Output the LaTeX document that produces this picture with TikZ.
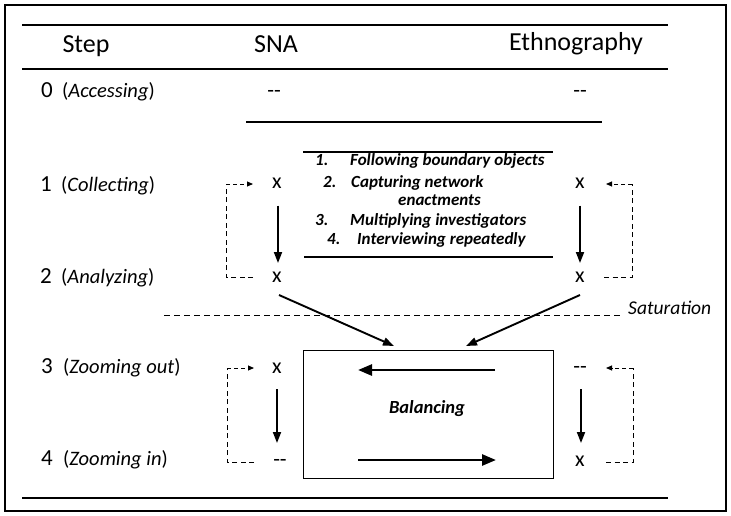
\documentclass[tikz,border=0pt]{standalone}
\usepackage{fontspec}
\setmainfont{Carlito}
\usetikzlibrary{arrows.meta}
\begin{document}
\begin{tikzpicture}[x=1pt,y=-1pt,
  rule/.style={line width=2.2pt},
  hdr/.style={font=\fontsize{26}{28}\selectfont, inner sep=0, anchor=base},
  num/.style={font=\fontsize{23}{26}\selectfont, inner sep=0, anchor=base},
  lbl/.style={font=\fontsize{20.5}{23}\selectfont, anchor=base west, inner sep=0},
  mk/.style={font=\fontsize{22}{24}\selectfont, inner sep=0, anchor=base},
  item/.style={font=\fontsize{17}{20}\selectfont\bfseries\itshape, anchor=mid west, inner sep=0},
  sarrow/.style={line width=1.9pt, -{Triangle[length=11pt,width=8pt]}},
  barrow/.style={line width=2.6pt, -{Triangle[length=14pt,width=11pt]}},
  darrow/.style={line width=0.9pt, dash pattern=on 4pt off 3pt, -{Triangle[length=6pt,width=5pt]}},
  dline/.style={line width=0.9pt, dash pattern=on 5pt off 3.5pt},
]
\useasboundingbox (0,0) rectangle (731,516);
\draw[line width=1.6pt] (5,5) rectangle (726,511);
% rules
\draw[rule] (22,25) -- (668,25);
\draw[rule] (22,69) -- (668,69);
\draw[rule] (246,122) -- (602,122);
\draw[rule] (22,498) -- (668,498);
% header
\node[hdr] (hstep) at (86,53) {Step};
\node[hdr] (hsna) at (276,53) {SNA};
\node[hdr] (heth) at (576,51) {Ethnography};
% row labels
\node[num] (n0) at (47,98) {0};
\node[lbl] (l0) at (62,98) {(\textit{Accessing})};
\node[num] (n1) at (46,191) {1};
\node[lbl] (l1) at (61,191) {(\textit{Collecting})};
\node[num] (n2) at (46,283) {2};
\node[lbl] (l2) at (61,283) {(\textit{Analyzing})};
\node[num] (n3) at (47,373) {3};
\node[lbl] (l3) at (63,373) {(\textit{Zooming out})};
\node[num] (n4) at (47,465) {4};
\node[lbl] (l4) at (63,465) {(\textit{Zooming in})};
% row 0 marks
\node[mk] (s0) at (274,98) {-{}-};
\node[mk] (e0) at (580,98) {-{}-};
% list block
\draw[line width=1.8pt] (303,152) -- (553,152);
\draw[line width=1.8pt] (304,257) -- (553,257);
\node[item] (i1n) at (315,163) {1.};
\node[item] (i1) at (350,163) {Following boundary objects};
\node[item] (i2n) at (323,185) {2.};
\node[item] (i2) at (351,185) {Capturing network};
\node[item] (i2b) at (398,203) {enactments};
\node[item] (i3n) at (315,223) {3.};
\node[item] (i3) at (350,223) {Multiplying investigators};
\node[item] (i4n) at (327,242) {4.};
\node[item] (i4) at (357,242) {Interviewing repeatedly};
% marks rows 1-2
\node[mk] (xl1) at (277,189) {x};
\node[mk] (xl2) at (277,282) {x};
\node[mk] (xr1) at (580,189) {x};
\node[mk] (xr2) at (580,282) {x};
\draw[sarrow] (xl1) ++(1,22) coordinate (vl1) -- (278,263) coordinate (vl2);
\draw[sarrow] (xr1) ++(0,22) coordinate (vr1) -- (580,263) coordinate (vr2);
% dashed loops rows 1-2
\coordinate (la1) at (253,277);
\coordinate (la2) at (226,277);
\coordinate (la3) at (226,184);
\coordinate (la4) at (253,184);
\draw[dline] (la1) -- (la2) -- (la3);
\draw[darrow] (la3) -- (la4);
\coordinate (ra1) at (604,277);
\coordinate (ra2) at (632,277);
\coordinate (ra3) at (632,184);
\coordinate (ra4) at (606,184);
\draw[dline] (ra1) -- (ra2) -- (ra3);
\draw[darrow] (ra3) -- (ra4);
% saturation
\draw[line width=0.8pt, dash pattern=on 6pt off 4pt] (164,315) -- (621,315);
\node[font=\fontsize{19.5}{21}\selectfont\itshape, anchor=mid west, inner sep=0] (sat) at (628,312) {Saturation};
% box
\draw[line width=0.8pt] (303,350) rectangle (553,478);
\node[font=\fontsize{18.5}{20}\selectfont\bfseries\itshape, inner sep=0, anchor=base] (bal) at (427,413) {Balancing};
\coordinate (bt1) at (495,370);
\coordinate (bt2) at (358,370);
\coordinate (bb1) at (358,460);
\coordinate (bb2) at (496,460);
\draw[barrow] (bt1) -- (bt2);
\draw[barrow] (bb1) -- (bb2);
% diagonal arrows
\coordinate (dl1) at (279,295);
\coordinate (dl2) at (394,346);
\coordinate (dr1) at (580,295);
\coordinate (dr2) at (466,346);
\draw[sarrow] (dl1) -- (dl2);
\draw[sarrow] (dr1) -- (dr2);
% rows 3-4
\node[mk] (xl3) at (277,373) {x};
\node[mk] (xl4) at (280,466) {-{}-};
\node[mk] (xr3) at (580,373) {-{}-};
\node[mk] (xr4) at (580,466) {x};
\draw[sarrow] (277,389) -- (277,443);
\draw[sarrow] (581,389) -- (581,443);
\coordinate (lb1) at (254,462);
\coordinate (lb2) at (227,462);
\coordinate (lb3) at (227,368);
\coordinate (lb4) at (254,368);
\draw[dline] (lb1) -- (lb2) -- (lb3);
\draw[darrow] (lb3) -- (lb4);
\coordinate (rb1) at (606,462);
\coordinate (rb2) at (633,462);
\coordinate (rb3) at (633,368);
\coordinate (rb4) at (606,368);
\draw[dline] (rb1) -- (rb2) -- (rb3);
\draw[darrow] (rb3) -- (rb4);
\end{tikzpicture}
\end{document}
